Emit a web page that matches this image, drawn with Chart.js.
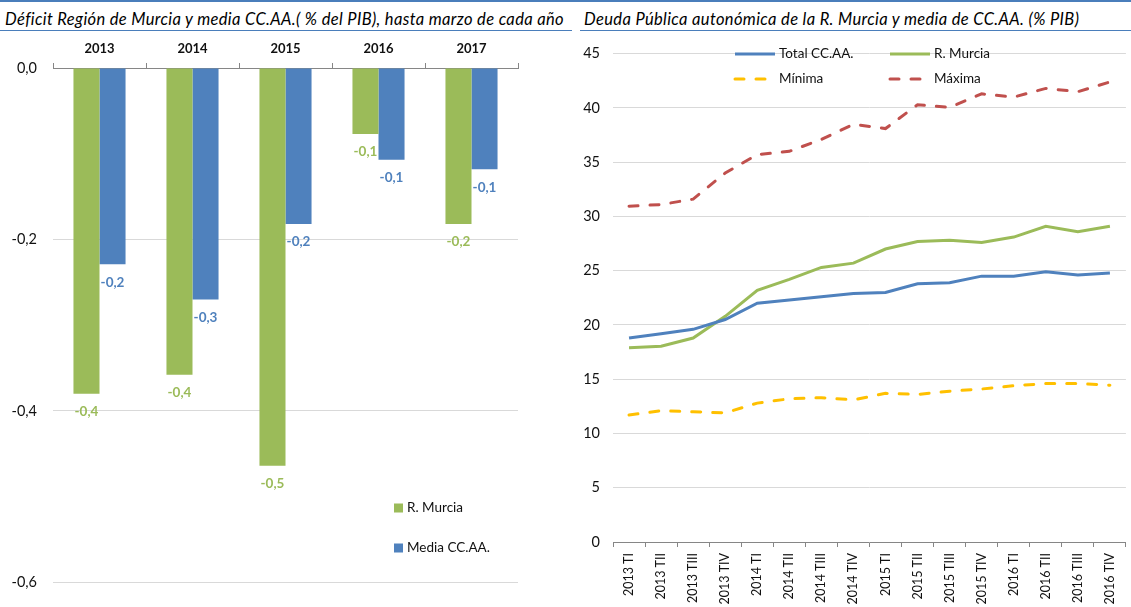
<!DOCTYPE html>
<html lang="es">
<head>
<meta charset="utf-8">
<title>Déficit y deuda pública de la Región de Murcia</title>
<script src="https://cdn.jsdelivr.net/npm/chart.js@4.4.1/dist/chart.umd.min.js"></script>
<style>
  html, body { margin: 0; padding: 0; background: #fff; }
  body { width: 1131px; height: 607px; position: relative; overflow: hidden; font-family: Lato, 'Open Sans', sans-serif; }
  .linea-sup { position: absolute; left: 0; top: 0; width: 1131px; height: 2px; background: #4a7ebb; }
  .titulo { position: absolute; top: 9px; height: 21px; line-height: 21px; border-bottom: 1.5px solid #4a7ebb;
            font-style: italic; font-size: 16.5px; letter-spacing: 0.35px; color: #000; white-space: nowrap; box-sizing: content-box; }
  #t1 { left: 0; width: 567px; padding-left: 5px; }
  #t2 { left: 580px; width: 547px; padding-left: 4px; }
  canvas { position: absolute; top: 32px; }
  #c1 { left: 0; }
  #c2 { left: 570px; }
</style>
</head>
<body>
<div class="linea-sup"></div>
<div class="titulo" id="t1">Déficit Región de Murcia y media CC.AA.( % del PIB), hasta marzo de cada año</div>
<div class="titulo" id="t2">Deuda Pública autonómica de la R. Murcia y media de CC.AA. (% PIB)</div>
<canvas id="c1" width="570" height="575"></canvas>
<canvas id="c2" width="561" height="575"></canvas>
<script>
// --- datos: déficit hasta marzo (% PIB) ---
const anios = ['2013', '2014', '2015', '2016', '2017'];
const deficitMurcia = [-0.380, -0.358, -0.464, -0.077, -0.182];
const deficitMedia = [-0.229, -0.270, -0.182, -0.107, -0.118];

// --- datos: deuda trimestral (% PIB) ---
const trimestres = ['2013 TI', '2013 TII', '2013 TIII', '2013 TIV',
  '2014 TI', '2014 TII', '2014 TIII', '2014 TIV',
  '2015 TI', '2015 TII', '2015 TIII', '2015 TIV',
  '2016 TI', '2016 TII', '2016 TIII', '2016 TIV'];
const deudaTotal = [18.8, 19.2, 19.6, 20.5, 22.0, 22.3, 22.6, 22.9, 23.0, 23.8, 23.9, 24.5, 24.5, 24.9, 24.6, 24.8];
const deudaMurcia = [17.9, 18.05, 18.8, 20.8, 23.2, 24.2, 25.3, 25.7, 27.0, 27.7, 27.8, 27.6, 28.1, 29.1, 28.6, 29.1];
const deudaMinima = [11.7, 12.1, 12.0, 11.9, 12.8, 13.2, 13.3, 13.1, 13.7, 13.6, 13.9, 14.1, 14.4, 14.6, 14.6, 14.45];
const deudaMaxima = [30.95, 31.1, 31.6, 34.0, 35.7, 36.0, 37.1, 38.5, 38.1, 40.3, 40.05, 41.3, 41.0, 41.8, 41.5, 42.4];

const VERDE = '#9bbb59';
const AZUL = '#4f81bd';
const ROJO = '#c0504d';
const AMARILLO = '#ffc000';
const FUENTE = 'Lato, "Open Sans", sans-serif';
const TEXTO = '#111';

// 0.2 -> "0,2"
function fmtComa(v) {
  const s = Number(v).toFixed(1).replace('.', ',');
  return s === '-0,0' ? '0,0' : s;
}

// etiquetas de valor debajo del final de cada barra
const etiquetasBarras = {
  id: 'etiquetasBarras',
  afterDatasetsDraw(chart) {
    const ctx = chart.ctx;
    ctx.save();
    ctx.font = 'bold 13.5px ' + FUENTE;
    ctx.textAlign = 'center';
    ctx.textBaseline = 'middle';
    chart.data.datasets.forEach((ds, i) => {
      ctx.fillStyle = ds.backgroundColor;
      chart.getDatasetMeta(i).data.forEach((bar, j) => {
        ctx.fillText(fmtComa(ds.data[j]), bar.x, bar.y + 18);
      });
    });
    ctx.restore();
  }
};

// leyenda de cuadros apilada (gráfico de barras)
const leyendaCuadros = {
  id: 'leyendaCuadros',
  afterDraw(chart, args, opts) {
    const ctx = chart.ctx;
    ctx.save();
    ctx.font = '13.5px ' + FUENTE;
    ctx.textBaseline = 'middle';
    chart.data.datasets.forEach((ds, i) => {
      const y = opts.y + i * opts.gap;
      ctx.fillStyle = ds.backgroundColor;
      ctx.fillRect(opts.x, y - 4.5, 9, 9);
      ctx.fillStyle = TEXTO;
      ctx.fillText(ds.label, opts.x + 13, y);
    });
    ctx.restore();
  }
};

// leyenda 2x2 con muestra de línea (gráfico de líneas)
const leyendaLineas = {
  id: 'leyendaLineas',
  afterDraw(chart, args, opts) {
    const ctx = chart.ctx;
    ctx.save();
    ctx.font = '13.5px ' + FUENTE;
    ctx.textBaseline = 'middle';
    chart.data.datasets.forEach((ds, i) => {
      const x = opts.cols[i % 2];
      const y = opts.rows[Math.floor(i / 2)];
      ctx.strokeStyle = ds.borderColor;
      ctx.lineWidth = ds.borderWidth;
      ctx.lineCap = ds.borderCapStyle || 'butt';
      ctx.setLineDash(ds.borderDash || []);
      ctx.beginPath();
      ctx.moveTo(x, y);
      ctx.lineTo(x + opts.muestra, y);
      ctx.stroke();
      ctx.setLineDash([]);
      ctx.fillStyle = TEXTO;
      ctx.fillText(ds.label, x + opts.muestra + 4, y);
    });
    ctx.restore();
  }
};

new Chart(document.getElementById('c1'), {
  type: 'bar',
  data: {
    labels: anios,
    datasets: [
      { label: 'R. Murcia', data: deficitMurcia, backgroundColor: VERDE, categoryPercentage: 0.56, barPercentage: 1 },
      { label: 'Media CC.AA.', data: deficitMedia, backgroundColor: AZUL, categoryPercentage: 0.56, barPercentage: 1 },
    ],
  },
  options: {
    responsive: false,
    animation: false,
    // el eje suma media altura de etiqueta al padding inferior
    layout: { padding: { left: 0, right: 52, top: 0, bottom: 12 } },
    plugins: {
      legend: { display: false },
      tooltip: { enabled: false },
      leyendaCuadros: { x: 394, y: 476, gap: 40 },
    },
    scales: {
      x: {
        position: 'top',
        grid: { offset: true, drawOnChartArea: false, color: '#868686', tickLength: 5 },
        border: { color: '#868686' },
        ticks: { color: TEXTO, padding: 6, font: { family: FUENTE, size: 13, weight: 'bold' } },
        afterFit: (s) => { s.height = 36; },
      },
      y: {
        min: -0.6,
        max: 0,
        grid: { color: (c) => (c.tick.value === 0 ? 'rgba(0,0,0,0)' : '#d9d9d9'), drawTicks: false },
        border: { display: false },
        ticks: { stepSize: 0.2, padding: 16, color: TEXTO, font: { family: FUENTE, size: 14.5 }, callback: (v) => fmtComa(v) },
        afterFit: (s) => { s.width = 53; },
      },
    },
  },
  plugins: [etiquetasBarras, leyendaCuadros],
});

function serie(label, data, color, dash) {
  return {
    label, data,
    borderColor: color,
    backgroundColor: color,
    borderWidth: 3,
    borderDash: dash,
    borderCapStyle: dash ? 'round' : 'butt',
    pointRadius: 0,
    tension: 0,
    fill: false,
  };
}

new Chart(document.getElementById('c2'), {
  type: 'line',
  data: {
    labels: trimestres,
    datasets: [
      serie('Total CC.AA.', deudaTotal, AZUL),
      serie('R. Murcia', deudaMurcia, VERDE),
      serie('Mínima', deudaMinima, AMARILLO, [9, 12]),
      serie('Máxima', deudaMaxima, ROJO, [9, 12]),
    ],
  },
  options: {
    responsive: false,
    animation: false,
    layout: { padding: { left: 0, right: 3, top: 8, bottom: 0 } },
    plugins: {
      legend: { display: false },
      tooltip: { enabled: false },
      leyendaLineas: { cols: [165, 320], rows: [22, 47], muestra: 40 },
    },
    scales: {
      x: {
        offset: true,
        grid: { offset: true, drawOnChartArea: false, color: '#868686', tickLength: 5 },
        border: { color: '#868686' },
        ticks: { color: TEXTO, padding: 6, minRotation: 90, maxRotation: 90, autoSkip: false, font: { family: FUENTE, size: 12.5 } },
        afterFit: (s) => { s.height = 65; },
      },
      y: {
        min: 0,
        max: 45,
        grid: { color: (c) => (c.tick.value === 0 ? 'rgba(0,0,0,0)' : '#d9d9d9'), drawTicks: false },
        border: { display: false },
        ticks: { stepSize: 5, padding: 13, color: TEXTO, font: { family: FUENTE, size: 14.5 } },
        afterFit: (s) => { s.width = 43; },
      },
    },
  },
  plugins: [leyendaLineas],
});
</script>
</body>
</html>
